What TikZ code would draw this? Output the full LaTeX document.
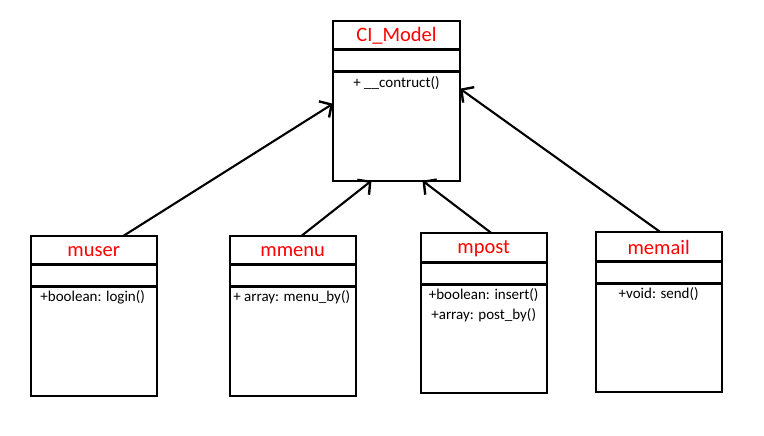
\documentclass[tikz,border=0pt]{standalone}
\usepackage{fontspec}
\setmainfont{Carlito}
\usetikzlibrary{calc,arrows.meta}

\begin{document}
\begin{tikzpicture}[x=1pt,y=-1pt,
  classbox/.style={draw=black,line width=1.8pt,fill=white,minimum width=126pt,minimum height=160pt,inner sep=0pt,outer sep=0pt},
  sepline/.style={line width=2.6pt},
  classname/.style={text=red,font=\fontsize{20.5}{24}\selectfont},
  member/.style={font=\fontsize{15}{18}\selectfont},
  inherit/.style={line width=2.1pt,-{Straight Barb[length=9pt,width=19pt,line width=2.4pt]}}]

\useasboundingbox[fill=white] (0,0) rectangle (764,436);

% parent class
\node[classbox,minimum width=127pt] (ci) at (396.5,100.7) {};
% subclasses
\node[classbox] (muser)  at (93.7,315.7) {};
\node[classbox] (mmenu)  at (292.7,315.7) {};
\node[classbox] (mpost)  at (483.7,313.3) {};
\node[classbox] (memail) at (658.7,312.3) {};

% compartments, names and members of each class
\foreach \c in {ci,muser,mmenu,mpost,memail}{
  \draw[sepline] ($(\c.north west)+(0,29)$) -- ($(\c.north east)+(0,29)$);
  \draw[sepline] ($(\c.north west)+(0,51)$) -- ($(\c.north east)+(0,51)$);
}

\node[classname] (ciname)     at ($(ci.north)+(0,15.5)$) {CI\_Model};
\node[classname] (musername)  at ($(muser.north)+(0,15.5)$) {muser};
\node[classname] (mmenuname)  at ($(mmenu.north)+(0,15.5)$) {mmenu};
\node[classname] (mpostname)  at ($(mpost.north)+(0,15.5)$) {mpost};
\node[classname] (memailname) at ($(memail.north)+(0,15.5)$) {memail};

\node[member] (cim)    at ($(ci.north)+(0,62)$) {+ \_\_contruct()};
\node[member] (muserm) at ($(muser.north)+(-1,62)$) {+boolean: login()};
\node[member] (mmenum) at ($(mmenu.north)+(-1,62)$) {+ array: menu\_by()};
\node[member] (mpostm1) at ($(mpost.north)+(0,62)$) {+boolean: insert()};
\node[member] (mpostm2) at ($(mpost.north)+(0,82)$) {+array: post\_by()};
\node[member] (memailm) at ($(memail.north)+(0,62)$) {+void: send()};

% generalisation arrows
\draw[inherit] ($(muser.north)+(30,0)$) -- ($(ci.west)+(0,3)$);
\draw[inherit] ($(mmenu.north)+(9,0)$) -- ($(ci.south)+(-25,0)$);
\draw[inherit] ($(mpost.north)+(8,0)$) -- ($(ci.south)+(26,0)$);
\draw[inherit] ($(memail.north)+(2,0)$) -- ($(ci.east)+(0,-12)$);
\end{tikzpicture}
\end{document}
